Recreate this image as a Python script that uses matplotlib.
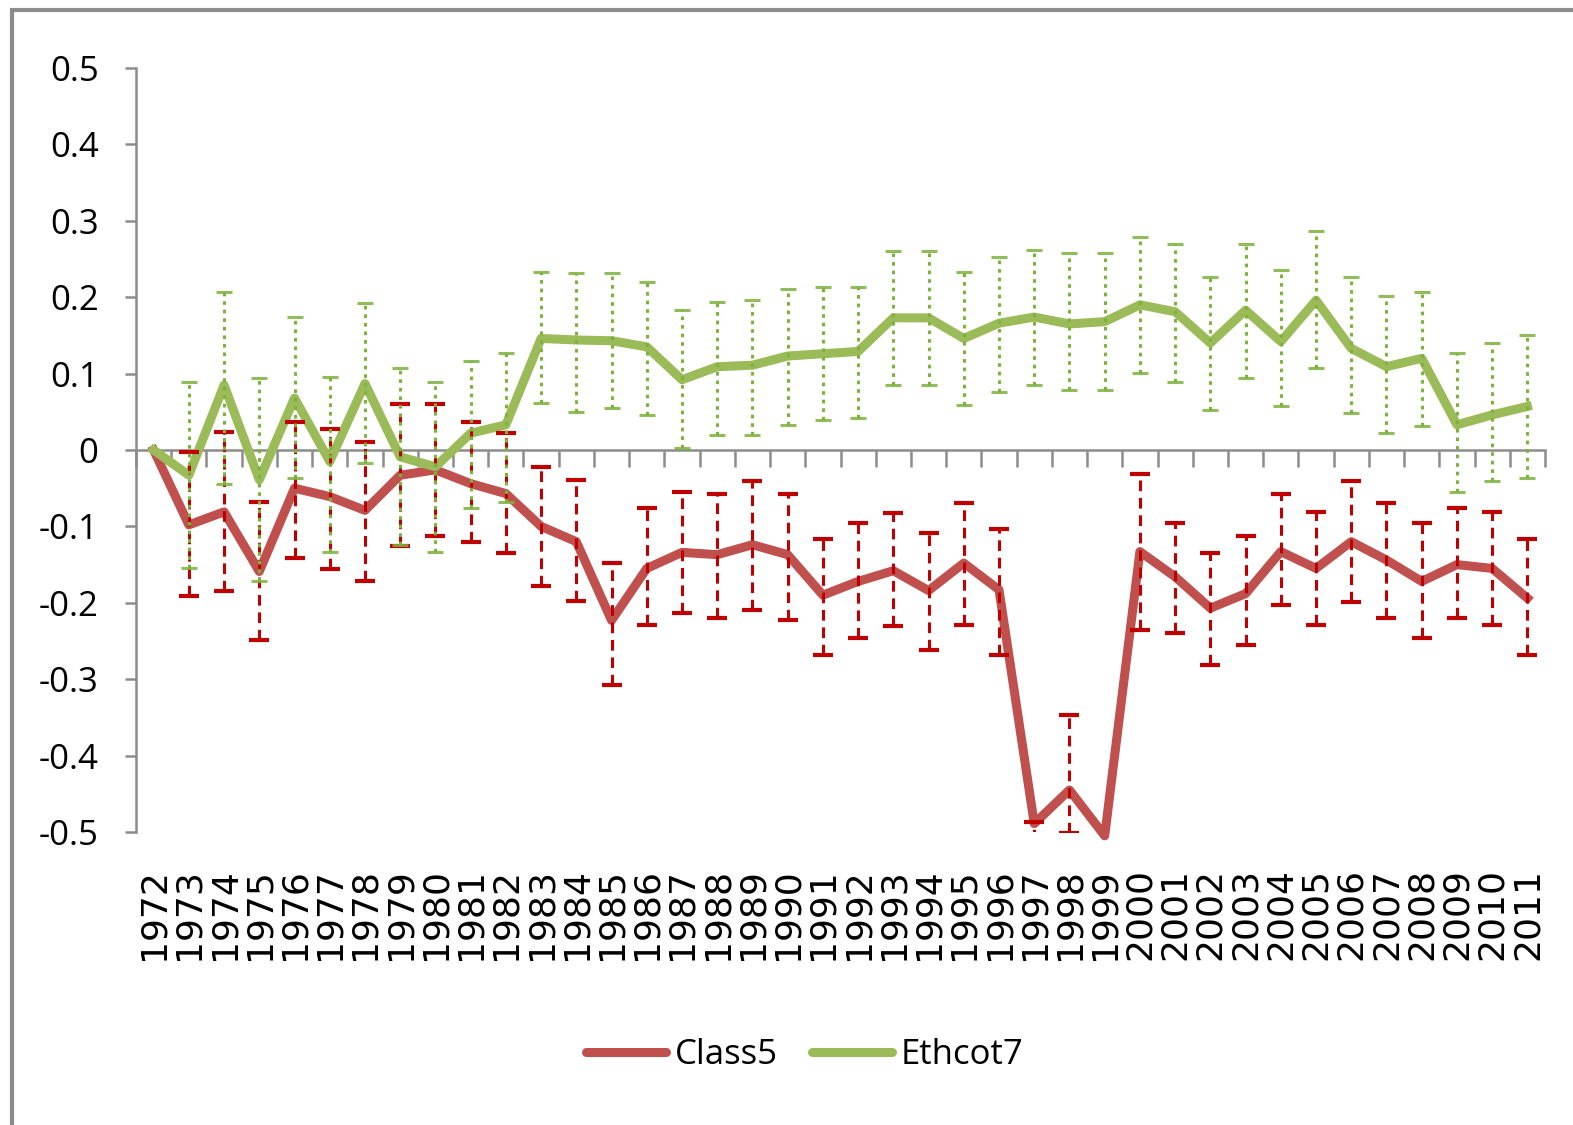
import matplotlib
matplotlib.use("Agg")
import matplotlib.pyplot as plt
import numpy as np
from matplotlib import font_manager
from matplotlib.patches import Rectangle

years = [str(y) for y in range(1972, 2012)]

class5 = [0.000, -0.098, -0.081, -0.159, -0.050, -0.061, -0.079, -0.033, -0.026, -0.044,
          -0.057, -0.100, -0.120, -0.223, -0.155, -0.134, -0.137, -0.124, -0.137, -0.190,
          -0.172, -0.158, -0.184, -0.148, -0.183, -0.489, -0.445, -0.505, -0.133, -0.166,
          -0.207, -0.188, -0.133, -0.155, -0.120, -0.144, -0.172, -0.150, -0.155, -0.194]
class5_hi = [np.nan, -0.002, 0.024, -0.068, 0.037, 0.027, 0.011, 0.060, 0.060, 0.037,
             0.022, -0.022, -0.039, -0.148, -0.076, -0.055, -0.058, -0.040, -0.057, -0.116,
             -0.096, -0.083, -0.109, -0.070, -0.103, -0.487, -0.347, np.nan, -0.031, -0.096,
             -0.135, -0.113, -0.057, -0.081, -0.041, -0.070, -0.096, -0.076, -0.081, -0.116]
class5_lo = [np.nan, -0.191, -0.184, -0.249, -0.142, -0.156, -0.171, -0.126, -0.113, -0.121,
             -0.135, -0.178, -0.197, -0.308, -0.229, -0.214, -0.220, -0.209, -0.223, -0.268,
             -0.246, -0.231, -0.262, -0.229, -0.268, -0.510, -0.501, np.nan, -0.236, -0.240,
             -0.281, -0.255, -0.203, -0.229, -0.199, -0.220, -0.246, -0.220, -0.229, -0.268]

ethcot7 = [0.000, -0.033, 0.085, -0.039, 0.068, -0.015, 0.087, -0.009, -0.022, 0.022,
           0.033, 0.146, 0.144, 0.143, 0.135, 0.092, 0.109, 0.111, 0.123, 0.126,
           0.129, 0.173, 0.173, 0.146, 0.166, 0.174, 0.165, 0.168, 0.190, 0.181,
           0.140, 0.183, 0.142, 0.196, 0.133, 0.109, 0.120, 0.033, 0.046, 0.057]
ethcot7_hi = [np.nan, 0.089, 0.207, 0.094, 0.174, 0.096, 0.192, 0.107, 0.089, 0.116,
              0.127, 0.233, 0.232, 0.232, 0.220, 0.183, 0.194, 0.196, 0.211, 0.214,
              0.214, 0.260, 0.260, 0.233, 0.253, 0.262, 0.258, 0.258, 0.279, 0.270,
              0.227, 0.270, 0.236, 0.286, 0.227, 0.201, 0.207, 0.127, 0.140, 0.151]
ethcot7_lo = [np.nan, -0.155, -0.044, -0.171, -0.037, -0.133, -0.017, -0.124, -0.133, -0.076,
              -0.068, 0.061, 0.050, 0.055, 0.046, 0.003, 0.020, 0.020, 0.033, 0.039,
              0.042, 0.085, 0.085, 0.059, 0.076, 0.085, 0.079, 0.079, 0.101, 0.089,
              0.052, 0.094, 0.057, 0.107, 0.048, 0.022, 0.031, -0.055, -0.041, -0.037]

yticks = [0.5, 0.4, 0.3, 0.2, 0.1, 0.0, -0.1, -0.2, -0.3, -0.4, -0.5]
ytick_labels = ["0.5", "0.4", "0.3", "0.2", "0.1", "0", "-0.1", "-0.2", "-0.3", "-0.4", "-0.5"]

names = {f.name for f in font_manager.fontManager.ttflist}
if "Liberation Sans Narrow" in names:
    narrow = "Liberation Sans Narrow"
    ysize, lsize = 30, 28
else:
    narrow = "Open Sans"
    ysize, lsize = 25, 25

W, H = 1573, 1125
fig = plt.figure(figsize=(W / 100, H / 100), dpi=100)
fig.patches.append(Rectangle((12 / W, -0.05), 1.2, 1 - 10 / H + 0.05, transform=fig.transFigure,
                             fill=False, edgecolor="#8c8c8c", linewidth=3, zorder=0))

ax = fig.add_axes([136 / W, 1 - 832 / H, (1545 - 136) / W, (832 - 68) / H])
x = np.arange(len(years))

red_line = "#C0504D"
green_line = "#9BBB59"
red_err = "#C00000"
green_err = "#7DB23D"

c5 = np.array(class5); c5h = np.array(class5_hi); c5l = np.array(class5_lo)
e7 = np.array(ethcot7); e7h = np.array(ethcot7_hi); e7l = np.array(ethcot7_lo)

l1, = ax.plot(x, c5, color=red_line, lw=6.5, zorder=3, label="Class5", clip_on=False)
m = ~np.isnan(c5h)
eb = ax.errorbar(x[m], c5[m], yerr=[c5[m] - c5l[m], c5h[m] - c5[m]], fmt="none",
                 ecolor=red_err, elinewidth=2.2, capsize=7, capthick=3, zorder=5)
eb[2][0].set_linestyle((0, (3.5, 2.2)))

l2, = ax.plot(x, e7, color=green_line, lw=6.5, zorder=4, label="Ethcot7")
m = ~np.isnan(e7h)
eb2 = ax.errorbar(x[m], e7[m], yerr=[e7[m] - e7l[m], e7h[m] - e7[m]], fmt="none",
                  ecolor=green_err, elinewidth=2.2, capsize=6, capthick=2.2, zorder=5)
eb2[2][0].set_linestyle((0, (1.2, 1.6)))
for c in eb2[1]:
    c.set_alpha(0.85)

ax.set_xlim(-0.5, len(years) - 0.5)
ax.set_ylim(-0.5, 0.5)

for s in ["top", "right"]:
    ax.spines[s].set_visible(False)
ax.spines["left"].set_color("#8c8c8c")
ax.spines["left"].set_linewidth(1.8)
ax.spines["bottom"].set_position(("data", 0))
ax.spines["bottom"].set_color("#8c8c8c")
ax.spines["bottom"].set_linewidth(1.8)

ax.set_xticks(np.arange(-0.5, len(years), 1.0))
ax.set_xticklabels([])
ax.tick_params(axis="x", direction="out", length=12, width=1.8, color="#8c8c8c")

ax.set_yticks(yticks)
ax.set_yticklabels(ytick_labels, fontsize=ysize, family=narrow)
ax.tick_params(axis="y", direction="out", length=8, width=1.8, color="#8c8c8c", pad=19)

sec = ax.secondary_xaxis(0)
sec.set_xticks(x)
sec.set_xticklabels(years, rotation=90, fontsize=26, family="DejaVu Sans")
sec.tick_params(length=0, pad=26)
sec.spines["bottom"].set_visible(False)

leg = fig.legend(handles=[l1, l2], labels=["Class5", "Ethcot7"], loc="center",
                 bbox_to_anchor=(805 / W, 1 - 1055 / H), ncol=2, frameon=False,
                 prop={"family": narrow, "size": lsize}, handlelength=2.3,
                 handletextpad=0.25, columnspacing=1.0)
for l in leg.get_lines():
    l.set_solid_capstyle("round")
    l.set_linewidth(6.5)

fig.savefig("out.png", dpi=100)
